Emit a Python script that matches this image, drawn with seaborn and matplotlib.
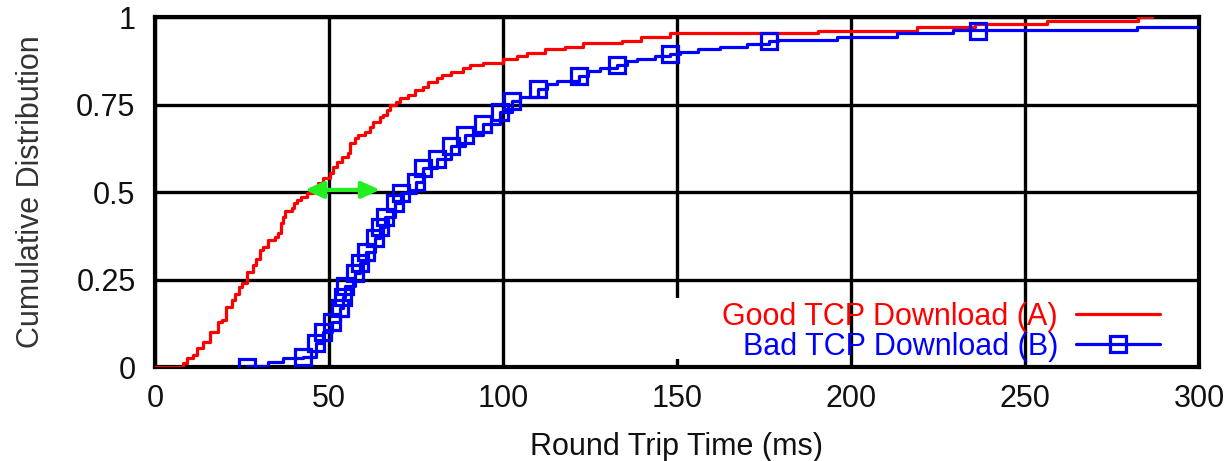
import matplotlib
matplotlib.use("Agg")
import matplotlib.pyplot as plt
from matplotlib.lines import Line2D
from matplotlib.patches import Rectangle
import seaborn as sns

# %% data (round trip time in ms, cumulative fraction)
good_x = [0, 6.7, 8.1, 9.1, 11.0, 12.0, 13.9, 15.8, 18.2, 19.2, 20.4, 22.0, 23.0,
          24.2, 24.9, 26.3, 28.3, 29.0, 30.2, 31.1, 32.6, 34.5, 35.4, 36.1, 36.9,
          37.4, 39.3, 39.9, 40.9, 42.1, 43.6, 45.5, 46.9, 48.4, 50.3, 51.1, 52.2,
          53.6, 55.6, 56.0, 57.5, 58.4, 60.3, 61.8, 62.7, 64.7, 65.6, 66.6, 67.5,
          69.4, 70.4, 72.8, 74.7, 77.1, 78.5, 80.9, 82.4, 85.2, 88.6, 90.5, 94.3,
          100.1, 103.9, 106.8, 112.1, 117.8, 123.1, 134.1, 139.8, 148.0, 190.6,
          218.9, 235.6, 256.2, 282.6, 286.4]
good_y = [0, 0.0, 0.011, 0.025, 0.034, 0.053, 0.072, 0.099, 0.129, 0.134, 0.172,
          0.191, 0.21, 0.229, 0.239, 0.272, 0.291, 0.31, 0.334, 0.344, 0.363, 0.372,
          0.382, 0.411, 0.429, 0.447, 0.453, 0.468, 0.477, 0.487, 0.496, 0.511,
          0.527, 0.539, 0.553, 0.572, 0.587, 0.601, 0.611, 0.639, 0.653, 0.663,
          0.672, 0.687, 0.701, 0.715, 0.72, 0.734, 0.749, 0.758, 0.768, 0.777,
          0.791, 0.801, 0.815, 0.825, 0.834, 0.844, 0.853, 0.863, 0.869, 0.879,
          0.889, 0.898, 0.908, 0.915, 0.925, 0.932, 0.944, 0.953, 0.961, 0.971,
          0.98, 0.989, 1.0, 1.0]

bad_x = [26.3, 32.6, 36.9, 42.6, 46.2, 48.4, 50.8, 53.1, 54.0, 54.7, 57.4, 59.0,
         60.6, 63.1, 64.8, 66.2, 69.0, 70.8, 75.1, 77.1, 80.9, 85.0, 89.2, 94.2,
         99.0, 102.7, 104.9, 110.1, 112.6, 115.4, 121.9, 124.5, 127.9, 132.8,
         135.5, 138.4, 143.7, 148.0, 150.9, 156.1, 162.4, 170.0, 176.5, 179.0,
         195.9, 213.1, 229.4, 236.6, 282.1, 300.0]
bad_y = [0.003, 0.013, 0.025, 0.029, 0.068, 0.101, 0.129, 0.169, 0.199, 0.232,
         0.268, 0.298, 0.329, 0.368, 0.4, 0.429, 0.468, 0.496, 0.529, 0.568, 0.593,
         0.631, 0.663, 0.693, 0.73, 0.761, 0.772, 0.793, 0.81, 0.817, 0.831, 0.846,
         0.853, 0.863, 0.874, 0.879, 0.889, 0.894, 0.901, 0.908, 0.915, 0.924,
         0.931, 0.934, 0.944, 0.953, 0.963, 0.963, 0.972, 0.972]

bad_mark_x = [26.3, 42.6, 46.2, 48.4, 50.8, 53.1, 54.0, 54.7, 57.4, 59.0, 60.6,
              63.1, 64.8, 66.2, 69.0, 70.8, 75.1, 77.1, 80.9, 85.0, 89.2, 94.2,
              99.0, 102.7, 110.1, 121.9, 132.8, 148.0, 176.5, 236.6]
bad_mark_y = [0.0, 0.029, 0.068, 0.101, 0.129, 0.169, 0.199, 0.232, 0.268, 0.298,
              0.329, 0.368, 0.4, 0.429, 0.468, 0.496, 0.529, 0.568, 0.593, 0.631,
              0.663, 0.693, 0.73, 0.761, 0.793, 0.831, 0.863, 0.894, 0.931, 0.961]

gap_x = [43.1, 64.7]   # green double arrow: median shift
gap_y = 0.506

x_ticks = [0, 50, 100, 150, 200, 250, 300]
y_ticks = [0, 0.25, 0.5, 0.75, 1]
y_tick_labels = ["0", "0.25", "0.5", "0.75", "1"]
labels = ["Good TCP Download (A)", "Bad TCP Download (B)"]

# %% plot
sns.set_theme(style="white")
plt.rcParams["font.family"] = ["Liberation Sans", "DejaVu Sans"]

fig, ax = plt.subplots(figsize=(12.29, 4.61), dpi=100)
fig.subplots_adjust(left=0.1261, right=0.9756, bottom=0.2039, top=0.9631)

sns.lineplot(x=good_x, y=good_y, ax=ax, color="#ff0000", lw=2.3,
             drawstyle="steps-post", estimator=None, sort=False, zorder=4)
sns.lineplot(x=bad_x, y=bad_y, ax=ax, color="#0000ff", lw=2.3,
             drawstyle="steps-post", estimator=None, sort=False, zorder=4)
sns.lineplot(x=bad_mark_x, y=bad_mark_y, ax=ax, color="#0000ff", linestyle="",
             marker="s", markersize=12, markerfacecolor="none",
             markeredgecolor="#0000ff", markeredgewidth=2.3,
             estimator=None, sort=False, zorder=5)

ax.annotate("", xy=(gap_x[0], gap_y), xytext=(gap_x[1], gap_y),
            arrowprops=dict(arrowstyle="<|-|>,head_length=0.55,head_width=0.25",
                            color="#22ee22", lw=3, mutation_scale=20,
                            shrinkA=0, shrinkB=0), zorder=6)

ax.set_xlim(0, 300)
ax.set_ylim(0, 1)
ax.set_xticks(x_ticks)
ax.set_yticks(y_ticks)
ax.set_yticklabels(y_tick_labels)
ax.tick_params(axis="both", length=0, labelsize=22, colors="#111111")
ax.tick_params(axis="x", pad=12)
ax.tick_params(axis="y", pad=14)
ax.grid(True, color="black", lw=2.4)
ax.set_axisbelow(True)
for s in ax.spines.values():
    s.set_color("black")
    s.set_linewidth(3)

# gap in the 150 ms gridline behind the key
ax.add_patch(Rectangle((148.5, 0.023), 3, 0.174, facecolor="white",
                       edgecolor="none", zorder=1.5))

ax.set_xlabel("Round Trip Time (ms)", fontsize=22, labelpad=13, color="#111111")
ax.set_ylabel("Cumulative Distribution", fontsize=22, labelpad=22, color="#333333")

handles = [
    Line2D([], [], color="#ff0000", lw=2.3),
    Line2D([], [], color="#0000ff", lw=2.3, marker="s", markersize=12,
           markerfacecolor="none", markeredgewidth=2.3),
]
leg = ax.legend(handles, labels, loc="lower right", bbox_to_anchor=(0.963, 0.014),
                frameon=False, markerfirst=False, handlelength=2.75,
                handletextpad=0.6, labelspacing=0.0, borderpad=0,
                borderaxespad=0, fontsize=22)
for t, c in zip(leg.get_texts(), ["#ff0000", "#0000ff"]):
    t.set_color(c)

fig.savefig("out.png", dpi=100)
